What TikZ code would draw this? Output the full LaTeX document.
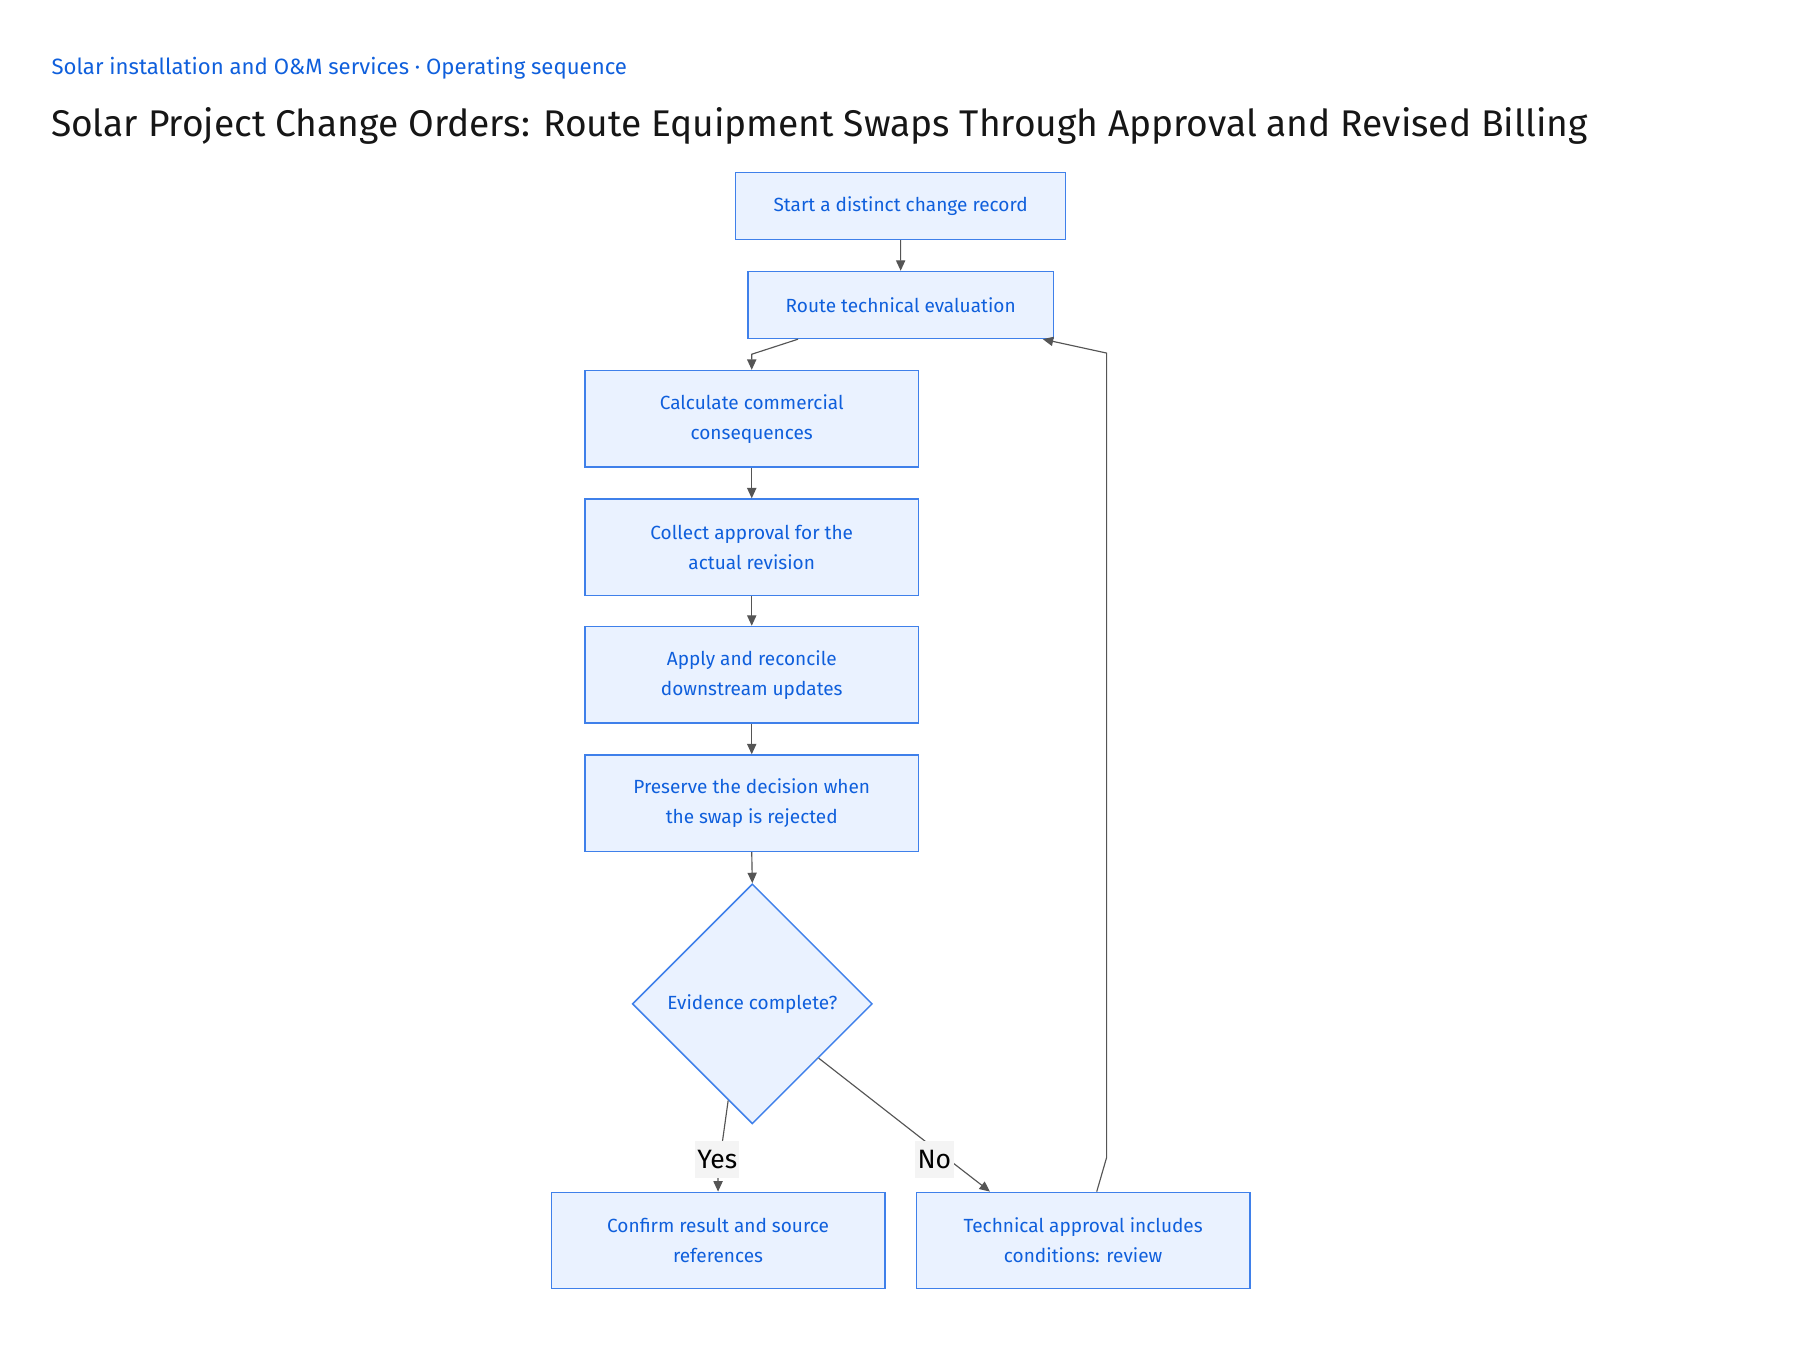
\documentclass[tikz,border=0pt]{standalone}
\usepackage{fontspec}
\setmainfont{Fira Sans}
\usetikzlibrary{shapes.geometric,arrows.meta,calc}
\definecolor{boxfill}{HTML}{EAF2FF}
\definecolor{boxline}{HTML}{3F80EA}
\definecolor{boxtext}{HTML}{0F5FDC}
\definecolor{linecol}{HTML}{555555}
\definecolor{titlecol}{HTML}{161616}
\definecolor{lblbg}{HTML}{F4F4F4}
\tikzset{
  stepbox/.style={draw=boxline, fill=boxfill, line width=1.3pt, text=boxtext,
    font=\fontsize{16.5}{26}\selectfont, align=center, inner sep=0pt,
    minimum width=289pt, minimum height=83.5pt},
  decision/.style={diamond, draw=boxline, fill=boxfill, line width=1.3pt, text=boxtext,
    font=\fontsize{16.5}{26}\selectfont, align=center, inner sep=0pt,
    minimum width=208pt, minimum height=208pt},
  conn/.style={draw=linecol, line width=1pt, -{Triangle[length=9pt,width=8pt]}},
  edgelabel/.style={fill=lblbg, text=black, font=\fontsize{23}{26}\selectfont,
    inner sep=2pt, minimum height=32pt}
}
\begin{document}
\begin{tikzpicture}[x=1pt,y=-1pt]
\useasboundingbox (0,0) rectangle (1560,1170);
\node[anchor=base west, inner sep=0pt, text=boxtext, font=\fontsize{19.2}{23}\selectfont] (sub) at (44.5,64.5)
  {Solar installation and O\&M services · Operating sequence};
\node[anchor=base west, inner sep=0pt, text=titlecol, font=\fontsize{32.2}{38}\selectfont] (title) at (44,118.5)
  {Solar Project Change Orders: Route Equipment Swaps Through Approval and Revised Billing};

\node[stepbox, minimum width=286pt, minimum height=58pt] (b1) at (780.5,178.4) {Start a distinct change record};
\node[stepbox, minimum width=265pt, minimum height=58pt] (b2) at (780.6,264.3) {Route technical evaluation};
\node[stepbox] (b3) at (651.5,362.9) {Calculate commercial\\consequences};
\node[stepbox] (b4) at (651.5,474.3) {Collect approval for the\\actual revision};
\node[stepbox] (b5) at (651.5,584.7) {Apply and reconcile\\downstream updates};
\node[stepbox] (b6) at (651.5,696.1) {Preserve the decision when\\the swap is rejected};
\node[decision] (d) at (652,870) {Evidence complete?};
\node[stepbox] (b7) at (622.3,1075.1) {Confirm result and source\\references};
\node[stepbox] (b8) at (938.7,1075.1) {Technical approval includes\\conditions: review};

\coordinate (nobend) at (815.8,1000);
\coordinate (loopb) at (959.1,1003);
\coordinate (loopt) at (959.1,306);

\draw[conn] (b1) -- (b2);
\draw[conn] ($(b2.south west)+(44.2,0)$) -- ($(b3.north)+(0,-13.5)$) -- (b3.north);
\draw[conn] (b3) -- (b4);
\draw[conn] (b4) -- (b5);
\draw[conn] (b5) -- (b6);
\draw[conn] (b6.south) -- (d.north);
\draw[conn] ($(d.south)!0.2!(d.west)$) -- ($(b7.north)+(0,-16)$) -- (b7.north);
\draw[conn] ($(d.east)!0.45!(d.south)$) -- (nobend) -- ($(b8.north west)+(64.4,0)$);
\draw[conn] ($(b8.north)+(11.8,0)$) -- (loopb) -- (loopt) -- ($(b2.south east)+(-10,0)$);

\node[edgelabel] (yes) at (621.6,1005) {Yes};
\node[edgelabel] (no) at (809.8,1005) {No};
\end{tikzpicture}
\end{document}
